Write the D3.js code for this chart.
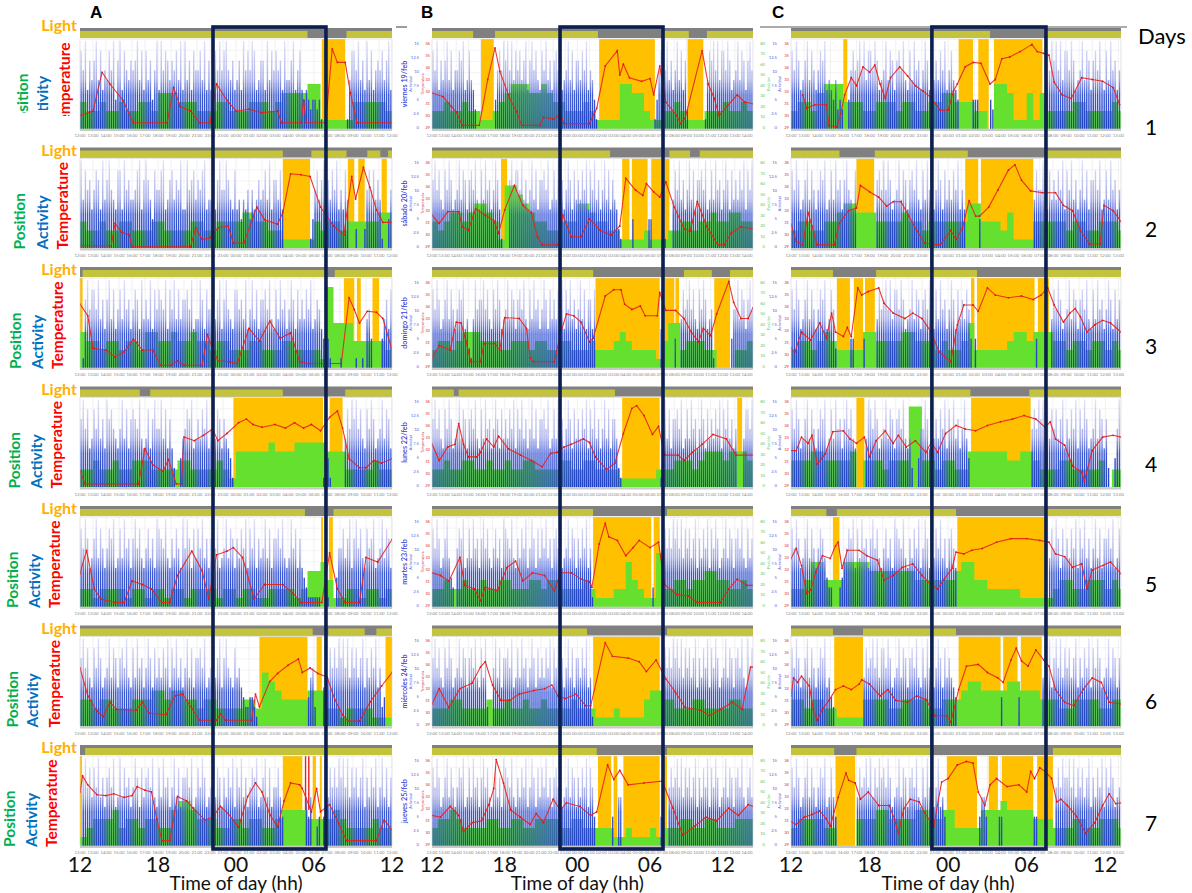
<!DOCTYPE html>
<html><head><meta charset="utf-8">
<script src="https://cdn.jsdelivr.net/npm/d3@7/dist/d3.min.js"></script>
<style>body{margin:0;background:#fff}svg{display:block}</style>
</head><body>
<svg id="chart" width="1192" height="893"></svg>
<script>
// ================= DATA =================
const columnNames = ["A", "B", "C"];
const columnEndHour = [36, 38.5, 37.2];          // hours shown in each column (12 = noon, 24 = midnight)
const boxStart = [22.23, 22.57, 22.76];          // dark frame start (hours)
const boxEnd   = [30.92, 31.07, 31.47];          // dark frame end (hours)
const axisHours  = [12, 18, 24, 30, 36];
const axisLabels = ["12", "18", "00", "06", "12"];
const dayNumbers = ["1", "2", "3", "4", "5", "6", "7"];
const dayNames = ["viernes 19/feb", "sábado 20/feb", "domingo 21/feb", "lunes 22/feb", "martes 23/feb", "miércoles 24/feb", "jueves 25/feb"];
const actTickLabels  = ["0", "2.5", "5", "7.5", "10", "12.5", "15"];
const tempTickLabels = ["29", "30", "31", "32", "33", "34", "35", "36"];
const posTickLabels  = ["0", "10", "20", "30", "40", "50", "60", "70", "80"];

// sleep (orange) periods, [start, end] in hours
const sleepA = [
  [[30.6,32.4]],
  [[27.6,29.7],[32.6,33.1],[33.4,33.9],[35.2,35.6]],
  [[12,12.2],[32.3,33.1],[33.3,33.6],[34.5,35.0]],
  [[23.8,30.7],[31.2,32.2]],
  [[30.55,30.7],[31.15,31.45]],
  [[25.8,29.5],[30.2,30.6],[35.5,36]],
  [[12,12.15],[27.6,29.1],[29.9,30.15],[30.45,30.6]]
];
const sleepB = [
  [[16.05,17.1],[25.8,30.4],[33.1,34.4]],
  [[17.7,18.2],[27.7,28.3],[28.5,29.8],[30.1,30.9],[31.2,31.6]],
  [[25.5,30.8],[31.2,32.0],[32.1,32.4],[35.3,36.6]],
  [[27.7,30.8],[37.2,37.6]],
  [[25.3,30.1],[30.3,30.8]],
  [[25.3,30.8]],
  [[25.7,26.8],[27.0,27.3],[27.8,30.8],[31.1,31.4]]
];
const sleepC = [
  [[16.0,16.3],[24.8,25.9],[26.3,27.1],[27.5,31.2]],
  [[17.0,18.35],[25.3,26.3],[26.5,30.5]],
  [[15.5,16.5],[16.8,17.5],[17.65,18.4],[25.75,26.0],[26.2,30.6],[30.85,31.7]],
  [[17.0,17.6],[25.75,30.3]],
  [[15.2,15.7],[24.7,31.6]],
  [[15.3,17.5],[24.8,28.0],[28.2,29.3],[29.55,31.15]],
  [[15.4,16.9],[23.9,26.2],[27.1,27.8],[28.1,30.5],[30.8,32.0]]
];

// dark periods of the light sensor strip (no light)
const darkA = [
  [[29.5,32.5]], [[27.6,29.8],[32.5,34.1],[35.1,35.7]], [[12,12.2],[31.0,31.6]],
  [[16.6,17.4],[27.6,32.4]], [[29.3,31.5]], [[29.9,31.1],[33.9,34.8]], [[12,12.4]]
];
const darkB = [
  [[15.4,17.2],[25.7,31.1],[33.2,34.7]], [[26.7,31.6],[33.3,34.1]], [[25.3,32.8],[35.1,36.6]],
  [[13.8,14.2],[27.1,31.1]], [[25.3,31.4]], [[24.8,31.4]], [[25.6,31.4]]
];
const darkC = [
  [[27.2,31.5]], [[15.7,18.4],[25.5,31.5]], [[15.2,18.5],[26.2,31.6]],
  [[25.7,30.2]], [[14.7,15.5],[24.6,31.5]], [[15.2,17.5],[24.6,31.5]], [[15.3,17.0],[22.8,32.0]]
];

// position (green), one digit per 30 min from 12:00, 0-9 = tenths of plot height
const posA = [
  "32 23 22 32 23 32 44 43 33 22 23 32 22 33 32 34 44 45 51 11 11 33 33 32",
  "32 23 22 33 22 23 32 22 23 32 23 33 34 43 32 21 11 11 32 33 23 33 33 44",
  "43 32 33 23 32 44 33 43 34 33 23 32 22 33 22 23 32 22 21 95 55 33 33 32",
  "22 32 23 22 33 32 22 23 32 22 23 21 44 44 45 44 45 55 55 44 42 22 23 22",
  "22 12 22 21 22 12 21 22 12 22 21 22 12 21 12 22 21 24 45 31 12 21 22 12",
  "33 23 32 22 33 34 43 44 33 23 32 22 23 32 65 43 33 34 44 22 12 22 21 11",
  "12 33 34 23 32 33 22 45 54 33 32 23 32 33 22 34 44 43 33 34 32 22 23 22"
];
const posB = [
  "22 32 23 22 11 23 45 55 44 54 33 22 23 21 11 15 54 42 11 22 32 11 12 22 32 23 2",
  "32 34 43 45 54 31 77 65 43 32 23 33 55 43 32 21 11 12 11 12 23 32 33 43 34 43 3",
  "23 32 34 44 33 32 23 33 23 32 23 32 22 32 22 34 32 22 21 35 52 33 32 20 00 22 3",
  "22 32 23 32 23 22 32 23 32 22 23 32 23 32 22 21 11 11 12 22 33 32 34 44 34 44 3",
  "22 32 23 22 32 23 32 22 33 23 32 22 23 21 11 22 53 21 16 22 33 23 34 43 32 23 2",
  "22 23 32 22 23 22 32 23 22 32 22 23 22 21 11 21 11 13 44 33 22 23 32 22 23 32 2",
  "23 34 32 22 23 32 23 32 23 33 32 23 32 22 22 11 21 11 21 22 23 32 23 32 22 33 3"
];
const posC = [
  "23 32 45 55 33 32 23 33 23 32 23 34 43 33 22 05 54 11 41 42 22 23 32 22 23 2",
  "23 32 23 34 55 44 43 33 34 33 23 33 33 35 53 33 24 11 13 33 33 23 32 23 33 2",
  "23 32 34 32 22 24 43 33 34 43 33 23 22 35 22 22 23 44 34 44 33 23 32 33 23 2",
  "33 34 43 33 34 03 33 23 33 99 33 23 32 24 44 44 43 34 43 22 23 32 22 23 02 2",
  "22 35 53 33 55 55 44 44 44 43 33 33 34 55 33 22 22 21 11 11 23 32 23 33 23 2",
  "33 23 32 21 11 13 33 32 23 33 32 23 33 45 54 44 45 54 44 33 32 23 33 32 23 3",
  "23 33 32 20 00 33 34 43 33 34 43 34 42 22 24 44 54 44 43 33 22 23 32 23 33 2"
];

// activity (blue), one digit per 10 min from 12:00 (one group per hour), 0-9
const actA = [
  "869475 795846 586937 948657 679584 857369 496875 768594 957486 685947 478696 896574 574968 698457 749586 867495 579468 434323 323100 000000 000158 869574 958467 685794",
  "958674 687495 796548 849675 568947 975386 689457 857694 496785 768945 584796 697548 453546 364575 685947 758400 000000 000013 685794 758694 648500 020002 686857 510036",
  "017968 869574 795846 859674 687495 759486 876948 695857 786945 597486 685794 796548 867594 695847 786954 859674 697485 758694 576438 310000 100000 010010 563000 035748",
  "796845 869574 978654 695847 876954 584796 695847 420035 687945 758694 695874 754310 000000 000000 000000 000000 000000 000000 000015 310000 005869 796854 869745 695874",
  "869745 795864 687945 859674 796854 685749 876954 758649 697485 869574 786945 695874 758694 869475 695847 786954 596847 432111 111001 100036 685794 796854 867945 695874",
  "796854 869745 695874 786954 859674 697485 758694 869574 695847 786945 685794 796548 564322 332100 000000 000000 000000 000356 200045 586869 796958 685794 758694 623000",
  "079685 869574 786945 958674 697485 786954 859674 695847 786945 869745 695874 758694 869574 687945 795846 685300 000000 005350 023035 586869 796958 685794 758694 695847"
];
const actB = [
  "869475 795846 687945 854200 000000 036869 796958 685794 796854 869574 786945 695847 758694 653100 000000 000000 000000 000000 001368 869574 695847 200000 000158 796958 869745 695874 796",
  "796854 869745 695874 786954 859674 697410 007968 869574 695847 786945 859674 697485 758694 869574 695847 542100 000300 000003 300000 310005 869574 695847 786945 859674 697485 758694 869",
  "869745 795864 687945 215967 796854 869745 695874 786954 859674 697485 758694 869574 695847 748000 000000 000000 000000 000000 000004 700000 300586 796854 869745 610000 000036 695874 796",
  "796854 869745 695874 786954 859674 697485 758694 869574 695847 786945 859674 697485 758694 869574 695847 752100 000000 000000 000001 695847 786945 859674 697485 758694 869574 600058 869",
  "869745 795320 687945 859674 796854 685749 876954 758694 697485 869574 786945 695874 758694 610000 000000 000000 000000 000000 020000 286869 796958 685794 758694 869745 695874 786954 857",
  "796854 869745 695874 786954 859200 695847 786945 859674 697485 758694 869574 695847 758694 510000 000000 000000 000000 000000 000000 486869 796958 685794 758694 869745 695874 786954 968",
  "869745 795864 687945 859674 796854 685749 876954 758694 697485 869574 786945 695874 758694 863000 000003 005500 000000 000000 000003 300686 796958 685794 758694 869745 695874 786954 685"
];
const actC = [
  "869745 795864 687945 435232 003686 796958 869745 695874 786954 859674 697485 758694 685430 000003 330000 032000 000000 000000 000000 003869 796958 869745 695874 786954 859674 69",
  "869745 795864 687945 859674 796548 000000 000786 969745 695874 786954 859674 697485 758694 640000 003000 000000 000000 000000 000586 697485 758694 869574 695847 786945 859674 69",
  "869745 795864 687945 862000 000330 000300 000586 796958 869745 695874 786954 859674 697485 758630 300000 000000 000000 000000 000030 000005 869745 695874 786954 859674 697485 75",
  "869745 795864 687945 859674 796854 000059 869745 695874 786954 520036 697485 758694 869574 695300 000000 000000 000000 000000 006869 796958 685794 758694 869745 695874 720036 96",
  "869745 795864 687532 200023 568794 859674 796854 685749 876954 758694 697485 869574 786400 000000 000000 000000 000000 000000 000000 000058 697485 758694 869574 695847 786945 85",
  "869745 795864 687945 320000 000000 000586 796958 869745 695874 786954 859674 697485 754300 000000 000000 000000 300000 003000 000000 058694 796958 685794 758694 869745 695874 78",
  "869745 795864 687945 853000 000000 586796 958697 869745 695874 786954 859674 694530 000000 000000 003553 000003 300000 000000 000330 000000 068697 796958 685794 758694 869745 69"
];

// temperature (red), [hour, % of plot height]
const tempA = [
  [[12,15],[13,20],[13.7,63],[14.3,50],[15.3,32],[16.1,7],[18.7,7],[19.2,46],[19.7,25],[20.5,20],[21.2,7],[22,7],[22.5,50],[23.3,32],[24,20],[25,22],[26,18],[27.2,20],[27.5,7],[29,7],[29.2,32],[29.4,7],[30.9,7],[31.4,89],[31.8,74],[32.4,74],[32.8,40],[33.3,7],[36,7]],
  [[12,3],[14.4,3],[14.7,28],[15.2,18],[15.8,15],[16,2],[20.5,2],[20.9,23],[21.4,10],[22,12],[22.6,23],[23.4,25],[23.8,6],[24.6,6],[25.6,46],[26.2,32],[27.2,27],[27.6,40],[28.2,83],[29,82],[29.7,80],[30.5,46],[31.5,25],[32.3,15],[32.9,80],[33.2,55],[33.8,90],[34.3,68],[34.8,43],[35.3,29],[36,29]],
  [[12,71],[12.6,58],[13,22],[14,20],[14.7,12],[15.4,18],[16.1,32],[16.8,20],[17.6,20],[18.2,3],[19,3],[19.5,8],[20,3],[21.4,3],[21.8,37],[22.2,22],[22.6,8],[23.5,7],[24.1,5],[25,44],[25.8,30],[26.6,52],[27.4,33],[28.2,39],[28.9,7],[29.6,5],[32.1,5],[32.7,78],[33.1,65],[33.5,50],[34.1,63],[34.8,62],[35.3,55],[36,20]],
  [[12,18],[12.4,4],[16.5,4],[17,43],[17.6,25],[18.4,18],[18.8,31],[19.4,4],[19.8,4],[20,56],[20.8,52],[21.5,58],[22.2,65],[22.6,52],[23.3,60],[24.2,72],[24.8,76],[25.3,70],[26,67],[27,70],[27.8,66],[28.5,72],[29.2,66],[29.8,70],[30.5,63],[31.2,78],[31.8,85],[32.2,66],[32.7,32],[33.5,22],[34,22],[34.6,30],[35.2,27],[36,32]],
  [[12,37],[12.5,63],[13.1,20],[13.6,9],[14.7,5],[15.4,5],[16,29],[16.8,25],[17.5,20],[18.3,5],[18.9,5],[19.5,35],[20.6,62],[21.4,40],[21.9,9],[22.5,58],[23.3,62],[23.8,66],[24.5,55],[25.4,9],[26.2,25],[27.6,25],[28.4,15],[29,5],[30.6,5],[31.2,60],[31.8,20],[32.4,5],[33.5,5],[34,55],[34.9,50],[36,75]],
  [[12,65],[12.6,34],[13.3,17],[13.8,11],[14.3,27],[14.8,19],[16.3,18],[16.8,27],[17.3,15],[18.6,13],[19.3,34],[19.9,36],[20.6,20],[21.2,7],[22.5,7],[22.8,14],[23.2,7],[25.2,7],[25.5,36],[25.8,22],[26.6,50],[27.2,59],[28,68],[28.8,75],[29.1,60],[29.7,65],[30.3,59],[31,55],[31.6,30],[32.2,13],[32.6,6],[33.5,6],[34.3,27],[35.2,45],[36,60]],
  [[12,60],[12.2,78],[12.6,68],[13.3,57],[14,56],[14.6,58],[15.4,54],[16,56],[16.4,66],[17,62],[17.5,60],[17.9,30],[18.3,6],[18.9,6],[19.5,55],[20.2,50],[20.7,42],[21.6,29],[22.2,32],[22.8,44],[23.4,36],[24.2,21],[24.9,55],[25.5,70],[26,60],[26.6,35],[27.2,21],[27.7,50],[28.2,70],[28.9,68],[29.1,64],[29.8,38],[30.2,64],[30.5,38],[31.2,46],[31.9,25],[32.5,6],[34.8,6],[35.4,29],[36,18]]
];
const tempB = [
  [[12,40],[12.9,36],[13.6,25],[14,19],[14.5,4],[15.9,4],[16.6,55],[17.2,90],[17.6,64],[18.4,34],[19,19],[19.4,4],[20.9,4],[21.2,13],[22,11],[22.6,17],[22.9,6],[25,6],[25.6,23],[26.3,70],[27.3,87],[27.5,60],[27.8,72],[28.3,57],[29.3,53],[30,56],[30.3,38],[30.8,70],[31.3,30],[32.2,15],[32.5,6],[32.9,12],[34.3,87],[34.8,50],[35.3,34],[35.7,15],[36.4,26],[37.2,38],[37.8,30],[38.5,28]],
  [[12,37],[12.6,28],[13.3,41],[14.2,41],[14.5,24],[15,20],[15.6,44],[16.4,37],[17.1,31],[17.5,17],[18,43],[18.8,70],[19.5,48],[20.2,40],[20.7,13],[21.1,4],[22.4,4],[22.8,37],[23.5,13],[24.3,13],[25,33],[25.9,20],[26.8,15],[27.5,25],[28,78],[28.8,65],[29.4,59],[29.7,72],[30.3,63],[30.8,57],[31.3,74],[32,46],[32.8,22],[33.3,19],[33.9,52],[34.7,24],[35.6,4],[36.1,4],[36.7,17],[37.5,24],[38.5,22]],
  [[12,11],[12.6,25],[13.5,20],[14,51],[14.4,50],[14.8,30],[15.2,7],[16,7],[16.3,27],[17.2,27],[17.6,20],[18,56],[19.2,55],[19.8,44],[20.1,11],[20.4,7],[22.1,7],[22.6,38],[23.1,60],[23.7,58],[24.3,51],[25,29],[25.3,33],[26.3,80],[27,87],[27.6,87],[27.9,71],[28.5,65],[29.2,69],[29.6,58],[30.6,58],[30.8,84],[31.3,64],[32.1,64],[32.8,55],[33.4,40],[34,29],[34.4,44],[35,36],[35.5,60],[36.5,96],[36.9,73],[37.5,55],[38.1,55],[38.5,67]],
  [[12,48],[12.6,30],[13.3,45],[13.9,48],[14.2,71],[14.6,48],[15,34],[15.7,34],[16,39],[16.5,54],[17.1,45],[17.5,57],[18.3,43],[19.3,36],[20.2,30],[21.1,23],[21.8,38],[22.3,39],[22.9,45],[23.5,48],[24.5,54],[25,50],[25.5,34],[26.4,20],[27.1,27],[27.8,60],[28.5,88],[28.9,91],[29.5,80],[30.2,59],[30.7,68],[31.2,36],[32.3,36],[32.8,30],[33.5,39],[34.3,48],[35.2,59],[36.3,54],[37.1,36],[38.5,36]],
  [[12,38],[12.7,35],[13.4,29],[14.3,55],[14.7,24],[15.5,20],[16,7],[16.4,22],[17.4,18],[18.2,44],[18.9,51],[19.5,29],[20.3,38],[21.3,35],[22.1,18],[22.6,38],[23.5,38],[24.3,31],[25,28],[25.2,22],[25.8,70],[26.3,93],[26.6,78],[27.3,74],[28,57],[28.6,66],[29.1,74],[30,66],[30.7,72],[31.2,25],[32.2,14],[33.2,12],[33.9,5],[35.8,5],[36.5,20],[37.2,31],[38,24],[38.5,24]],
  [[12,25],[12.6,42],[13.4,21],[14.3,42],[15.3,48],[16,66],[16.4,72],[17,46],[17.7,29],[18.4,29],[19.2,36],[20.4,40],[21.3,42],[21.9,46],[22.4,34],[23,31],[23.9,36],[24.7,23],[25.1,23],[26.3,93],[26.9,78],[28.2,76],[29.1,72],[29.7,61],[30.5,74],[31.3,53],[32.1,38],[32.9,21],[34.2,18],[34.9,12],[35.8,19],[36.8,27],[37.6,19],[38.3,66],[38.5,66]],
  [[12,34],[12.7,32],[13.5,44],[14.2,34],[14.6,16],[15.3,26],[16.1,28],[16.7,46],[17.1,64],[17.3,96],[17.9,70],[18.5,40],[19.3,32],[20.1,24],[20.6,36],[21.2,26],[22,52],[22.6,40],[23.1,48],[24.2,44],[25.1,34],[25.6,38],[26.5,90],[27,74],[27.5,84],[28.2,68],[29.5,70],[31,72],[31.9,42],[32.7,12],[33.7,22],[34.6,32],[35.5,28],[36.5,42],[37.3,34],[38.1,46],[38.5,44]]
];
const tempC = [
  [[12.9,38],[13.2,23],[13.8,27],[14.7,27],[14.9,4],[15.5,2],[15.8,17],[16.1,38],[16.6,57],[17,48],[17.5,69],[18,63],[18.4,71],[18.8,50],[19.2,34],[19.6,57],[20.3,69],[20.9,59],[21.5,48],[22.1,42],[22.6,36],[23.4,21],[24,21],[24.4,42],[24.7,50],[25.3,69],[25.9,74],[26.5,73],[27.2,50],[27.6,55],[28.1,78],[28.7,80],[29.5,86],[30.4,94],[30.8,86],[31.3,84],[31.7,82],[32.1,52],[32.7,38],[33.4,34],[34.2,57],[35,55],[35.8,53],[36.6,46],[37.1,27]],
  [[12,27],[12.4,8],[12.9,4],[13.3,40],[13.6,25],[14,4],[15.3,4],[15.7,28],[16.4,42],[17,45],[17.3,70],[18,63],[18.7,57],[19.3,47],[19.8,52],[20.4,52],[21,36],[21.6,20],[22.2,6],[23.4,4],[24.2,20],[24.6,10],[25.1,23],[25.6,53],[26.1,36],[26.4,36],[27.1,46],[27.8,65],[28.6,87],[29.1,93],[29.6,76],[30.3,64],[31.2,62],[32.2,62],[32.8,48],[33.5,42],[34.1,20],[34.8,5],[35.6,5],[35.9,48],[36.6,42],[37.2,30]],
  [[12,22],[12.3,18],[12.8,40],[13.5,31],[14.2,50],[14.7,33],[15.1,61],[15.4,40],[16,35],[16.3,45],[16.6,35],[17.1,89],[17.4,81],[17.9,85],[18.7,89],[19.1,72],[19.8,61],[20.7,55],[21.3,61],[22,55],[22.7,40],[23.3,18],[24.2,7],[24.7,48],[25.2,70],[25.9,70],[26.3,63],[27,89],[27.6,81],[28.6,78],[29.6,80],[30.5,76],[31.1,81],[31.6,89],[32.1,70],[32.8,51],[33.3,61],[33.7,66],[34.1,57],[34.6,40],[35.2,48],[35.8,53],[36.4,50],[37.2,40]],
  [[12,41],[12.4,41],[12.8,56],[13.3,49],[13.6,58],[14,26],[14.6,37],[15.2,62],[16,63],[16.5,54],[17,49],[17.6,56],[18,34],[18.5,52],[19.2,63],[19.8,49],[20.2,58],[20.8,45],[21.5,52],[22.3,39],[22.7,50],[23.2,39],[23.8,60],[24.6,69],[25.3,65],[26.1,63],[27,69],[28,73],[28.9,76],[29.8,80],[30.7,76],[31.4,67],[31.8,73],[32.2,54],[32.9,47],[33.5,24],[34.2,17],[34.4,7],[35,41],[35.8,56],[36.6,58],[37.2,56]],
  [[12,54],[12.4,65],[12.8,46],[13.2,15],[13.5,19],[13.9,39],[14.4,57],[15,54],[15.4,68],[15.6,72],[15.9,43],[16.3,63],[17.2,63],[17.8,57],[18.6,52],[19.1,30],[19.8,35],[20.5,44],[21.3,48],[22,35],[22.6,26],[23.2,20],[23.7,31],[24.3,43],[24.6,61],[25.2,59],[25.8,63],[26.6,65],[27.7,72],[28.8,76],[30,76],[31,74],[31.7,72],[32.2,59],[32.9,56],[33.5,44],[34.2,48],[34.6,20],[35,41],[35.8,46],[36.4,50],[37.2,37]],
  [[12,34],[12.2,54],[12.5,49],[12.8,56],[13.4,45],[13.7,19],[14,7],[14.4,19],[14.9,29],[15.4,41],[16,45],[16.6,41],[17.2,47],[17.4,52],[18,47],[18.8,34],[19.4,41],[20,29],[20.9,27],[21.6,34],[22.3,30],[23,12],[23.9,12],[24.2,5],[24.4,16],[24.8,41],[25.4,67],[26.3,69],[27,60],[27.8,54],[28.2,49],[28.8,74],[29.2,87],[29.6,73],[30.1,67],[30.7,85],[31.3,74],[31.7,67],[32.2,41],[32.9,27],[33.6,23],[34.3,41],[35,54],[35.7,49],[36.3,27],[37.2,25]],
  [[12,27],[12.4,24],[13,32],[13.6,35],[14.2,39],[14.7,30],[15,22],[15.6,54],[16.2,81],[16.4,73],[16.9,70],[17.3,52],[17.9,60],[18.7,45],[19.5,45],[19.9,30],[20.2,14],[20.6,41],[21.1,52],[21.8,49],[22.2,37],[22.9,22],[23.5,71],[24,75],[24.7,90],[25.4,94],[25.9,92],[26.3,60],[26.8,45],[27.2,68],[27.7,75],[28.5,66],[29.4,68],[30,60],[30.3,83],[30.6,75],[31,87],[31.4,83],[31.9,75],[32.3,49],[32.6,52],[33.1,45],[33.8,33],[34.5,14],[35.2,26],[35.8,45],[36.3,58],[36.8,47],[37.2,48]]
];
// red sensor spikes in panel A7 (hours)
const tempSpikesA = [[], [], [], [], [], [], [29.35, 29.6]];

// ================= LAYOUT / STYLE =================
const sleepAll = [sleepA, sleepB, sleepC];
const darkAll = [darkA, darkB, darkC];
const posAll = [posA, posB, posC];
const actAll = [actA, actB, actC];
const tempAll = [tempA, tempB, tempC];

const colX0 = [80, 432, 791], colX1 = [392, 753, 1121];
const rowTop = r => 28 + r * 119.5;
const LIGHT_H = 11, PLOT_H = 90;
const FONT = "Lato, 'Open Sans', 'DejaVu Sans', sans-serif";
const digits = s => s.replace(/\s+/g, "").split("").map(Number);
const ACT_STEP = 1 / 6;

const svg = d3.select("#chart");
svg.append("rect").attr("width", 1192).attr("height", 893).attr("fill", "#fff");
const defs = svg.append("defs");
const grad = defs.append("linearGradient").attr("id", "actGrad")
  .attr("gradientUnits", "userSpaceOnUse")
  .attr("x1", 0).attr("x2", 0).attr("y1", LIGHT_H + PLOT_H).attr("y2", LIGHT_H);
[[0, "#2040c4", 1], [0.38, "#3050d2", 0.95], [0.56, "#7480e0", 0.66], [1, "#c0c0f0", 0.42]]
  .forEach(([o, c, a]) => grad.append("stop").attr("offset", o).attr("stop-color", c).attr("stop-opacity", a));
for (let c = 0; c < 3; c++) {
  defs.append("clipPath").attr("id", "clip" + c).append("rect")
    .attr("x", 0).attr("y", LIGHT_H).attr("width", colX1[c] - colX0[c]).attr("height", PLOT_H);
}

function drawPanel(c, r) {
  const x0 = colX0[c], w = colX1[c] - x0, top = rowTop(r), end = columnEndHour[c];
  const xs = d3.scaleLinear().domain([12, end]).range([0, w]);
  const yB = LIGHT_H + PLOT_H, yT = LIGHT_H;
  const yPct = d3.scaleLinear().domain([0, 100]).range([yB, yT]);
  const yAct = d3.scaleLinear().domain([0, 9]).range([yB, yT + 2]);
  const g = svg.append("g").attr("transform", `translate(${x0},${top})`);

  // light strip
  g.append("rect").attr("x", 0).attr("y", 0).attr("width", w).attr("height", LIGHT_H - 1).attr("fill", "#808080");
  const segs = []; let cur = 12;
  darkAll[c][r].forEach(([s, e]) => { if (s > cur) segs.push([cur, s]); cur = Math.max(cur, e); });
  if (cur < end) segs.push([cur, end]);
  g.selectAll(null).data(segs).join("rect")
    .attr("x", d => xs(d[0])).attr("width", d => xs(d[1]) - xs(d[0]))
    .attr("y", 3).attr("height", LIGHT_H - 4).attr("fill", "#c4c43c");

  const p = g.append("g").attr("clip-path", `url(#clip${c})`);
  p.append("rect").attr("x", 0).attr("y", yT).attr("width", w).attr("height", PLOT_H).attr("fill", "#fff");
  // grid
  p.selectAll(null).data(d3.range(13, Math.floor(end) + 1)).join("line")
    .attr("x1", d => xs(d)).attr("x2", d => xs(d)).attr("y1", yT).attr("y2", yB)
    .attr("stroke", "#e8e8e8").attr("stroke-width", 0.6);
  p.selectAll(null).data(d3.range(12.5, 100, 12.5)).join("line")
    .attr("x1", 0).attr("x2", w).attr("y1", d => yPct(d)).attr("y2", d => yPct(d))
    .attr("stroke", "#ececec").attr("stroke-width", 0.6);
  // sleep
  p.selectAll(null).data(sleepAll[c][r]).join("rect")
    .attr("x", d => xs(d[0])).attr("width", d => xs(d[1]) - xs(d[0]))
    .attr("y", yT).attr("height", PLOT_H).attr("fill", "#FFC000");
  // position
  const pv = digits(posAll[c][r]).map((v, i) => [12 + i * 0.5, v * 10]);
  pv.push([end, pv[pv.length - 1][1]]);
  p.append("path").datum(pv)
    .attr("d", d3.area().x(d => xs(d[0])).y0(yB).y1(d => yPct(d[1])).curve(d3.curveStepAfter))
    .attr("fill", "#66e02e");
  // activity
  const av = digits(actAll[c][r]).map((v, i) => [12 + i * ACT_STEP, v]).filter(d => d[1] > 0);
  const bw = xs(12 + ACT_STEP) - xs(12);
  p.selectAll(null).data(av).join("rect")
    .attr("x", d => xs(d[0]) + bw * 0.18).attr("width", bw * 0.64)
    .attr("y", d => yAct(d[1])).attr("height", d => yB - yAct(d[1]))
    .attr("fill", "url(#actGrad)");
  // red spikes
  if (c === 0) {
    p.selectAll(null).data(tempSpikesA[r]).join("rect")
      .attr("x", d => xs(d) - 0.7).attr("width", 1.4).attr("y", yT).attr("height", yPct(40) - yT)
      .attr("fill", "#e8211b");
  }
  // temperature
  const tv = tempAll[c][r];
  p.append("path").datum(tv)
    .attr("d", d3.line().x(d => xs(d[0])).y(d => yPct(d[1])))
    .attr("fill", "none").attr("stroke", "#e8211b").attr("stroke-width", 1.1).attr("opacity", 0.9);
  p.selectAll(null).data(tv).join("circle")
    .attr("cx", d => xs(d[0])).attr("cy", d => yPct(d[1])).attr("r", 0.9)
    .attr("fill", "#e01515");
  // frame + axis strip
  g.append("rect").attr("x", 0).attr("y", yT).attr("width", w).attr("height", PLOT_H)
    .attr("fill", "none").attr("stroke", "#d2d2d2").attr("stroke-width", 0.6);
  g.append("rect").attr("x", 0).attr("y", yB).attr("width", w).attr("height", 2).attr("fill", "#c9c9c9");
  // hour tick labels
  g.selectAll(null).data(d3.range(12, Math.floor(end) + 1)).join("text")
    .attr("x", d => xs(d)).attr("y", yB + 8).attr("text-anchor", "middle")
    .attr("font-family", FONT).attr("font-size", 4.3).attr("fill", "#8a8a8a")
    .text(d => String(d % 24).padStart(2, "0") + ":00");
}

for (let c = 0; c < 3; c++) for (let r = 0; r < 7; r++) drawPanel(c, r);

// small axes at left of columns B and C
function tinyAxis(x, r, labels, color, anchor) {
  const top = rowTop(r) + LIGHT_H, bot = top + PLOT_H;
  const ys = d3.scalePoint().domain(labels).range([bot - 2, top + 4]);
  svg.append("g").selectAll("text").data(labels).join("text")
    .attr("x", x).attr("y", d => ys(d) + 1.5).attr("text-anchor", anchor)
    .attr("font-family", FONT).attr("font-size", 4.2).attr("fill", color).text(d => d);
}
function tinyTitle(x, r, text, color, size, weight) {
  const cy = rowTop(r) + LIGHT_H + PLOT_H / 2;
  svg.append("text").attr("transform", `translate(${x},${cy}) rotate(-90)`)
    .attr("text-anchor", "middle").attr("dy", "0.35em")
    .attr("font-family", FONT).attr("font-size", size).attr("font-weight", weight)
    .attr("fill", color).text(text);
}
for (let r = 0; r < 7; r++) {
  tinyTitle(404, r, dayNames[r], "#3340d8", 7.2, 600);
  tinyTitle(411, r, "Actividad", "#5560e0", 3.8, 400);
  tinyAxis(419, r, actTickLabels, "#5560e0", "end");
  tinyTitle(423, r, "Temperatura", "#e03030", 3.8, 400);
  tinyAxis(430, r, tempTickLabels, "#e03030", "end");
  tinyAxis(765, r, posTickLabels, "#55cc55", "end");
  tinyTitle(769, r, "Posición", "#55cc55", 3.8, 400);
  tinyAxis(777, r, actTickLabels, "#5560e0", "end");
  tinyTitle(780, r, "Actividad", "#5560e0", 3.8, 400);
  tinyAxis(789, r, tempTickLabels, "#e03030", "end");
}

// top border lines
svg.append("line").attr("x1", 760).attr("x2", 1127).attr("y1", 27).attr("y2", 27).attr("stroke", "#5a5a5a").attr("stroke-width", 1.2);
svg.append("line").attr("x1", 396).attr("x2", 407).attr("y1", 27).attr("y2", 27).attr("stroke", "#5a5a5a").attr("stroke-width", 1.2);

// dark frames and bottom axes
for (let c = 0; c < 3; c++) {
  const xs = d3.scaleLinear().domain([12, columnEndHour[c]]).range([colX0[c], colX1[c]]);
  svg.append("rect").attr("x", xs(boxStart[c])).attr("y", 27)
    .attr("width", xs(boxEnd[c]) - xs(boxStart[c])).attr("height", 822)
    .attr("fill", "none").attr("stroke", "#0c1f4f").attr("stroke-width", 3.6);
  svg.append("g").selectAll("text").data(axisHours).join("text")
    .attr("x", d => xs(d)).attr("y", 872).attr("text-anchor", "middle")
    .attr("font-family", FONT).attr("font-size", 21).attr("fill", "#111")
    .text((d, i) => axisLabels[i]);
  svg.append("text").attr("x", xs(24)).attr("y", 890).attr("text-anchor", "middle")
    .attr("font-family", FONT).attr("font-size", 19).attr("fill", "#111").text("Time of day (hh)");
}

// column letters
const letterX = [90, 421, 772];
columnNames.forEach((n, i) => svg.append("text").attr("x", letterX[i]).attr("y", 18)
  .attr("font-family", "'Liberation Sans', Arial, sans-serif").attr("font-weight", 700)
  .attr("font-size", 17).attr("fill", "#000").text(n));

// Days
svg.append("text").attr("x", 1138).attr("y", 44).attr("font-family", FONT).attr("font-size", 22).attr("fill", "#000").text("Days");
const dayY = [128, 230, 347, 465, 585, 702, 824];
dayNumbers.forEach((d, i) => svg.append("text").attr("x", 1145).attr("y", dayY[i]).attr("dy", "0.35em")
  .attr("font-family", FONT).attr("font-size", 21).attr("fill", "#000").text(d));

// left labels of column A (first row is cut at the bottom, as in the figure)
const labelPosX = [23, 20, 16, 15, 13, 13, 10];
const labelActX = [43, 43, 38, 37, 35, 33, 32];
const labelTempX = [65, 63, 58, 57, 55, 55, 52];
const clipBottoms = { Position: 113, Activity: 110, Temperature: 116 };
Object.entries(clipBottoms).forEach(([k, b]) => defs.append("clipPath").attr("id", "lc" + k)
  .append("rect").attr("x", 0).attr("y", 0).attr("width", 200).attr("height", b));
function sideLabel(text, x, bottom, color, r) {
  const holder = r === 0 ? svg.append("g").attr("clip-path", `url(#lc${text})`) : svg;
  holder.append("text").attr("transform", `translate(${x},${bottom}) rotate(-90)`)
    .attr("dy", "0.35em").attr("text-anchor", "start")
    .attr("font-family", FONT).attr("font-weight", 700).attr("font-size", 15.5)
    .attr("fill", color).text(text);
}
for (let r = 0; r < 7; r++) {
  const bottom = rowTop(r) + LIGHT_H + PLOT_H + 1;
  sideLabel("Position", labelPosX[r], bottom, "#00B050", r);
  sideLabel("Activity", labelActX[r], bottom, "#0070C0", r);
  sideLabel("Temperature", labelTempX[r], bottom, "#FF0000", r);
  svg.append("text").attr("x", 77).attr("y", r === 0 ? 31 : rowTop(r) + 8)
    .attr("text-anchor", "end").attr("font-family", FONT).attr("font-weight", 700)
    .attr("font-size", 16).attr("fill", "#FFB000").text("Light");
}
</script>
</body></html>
